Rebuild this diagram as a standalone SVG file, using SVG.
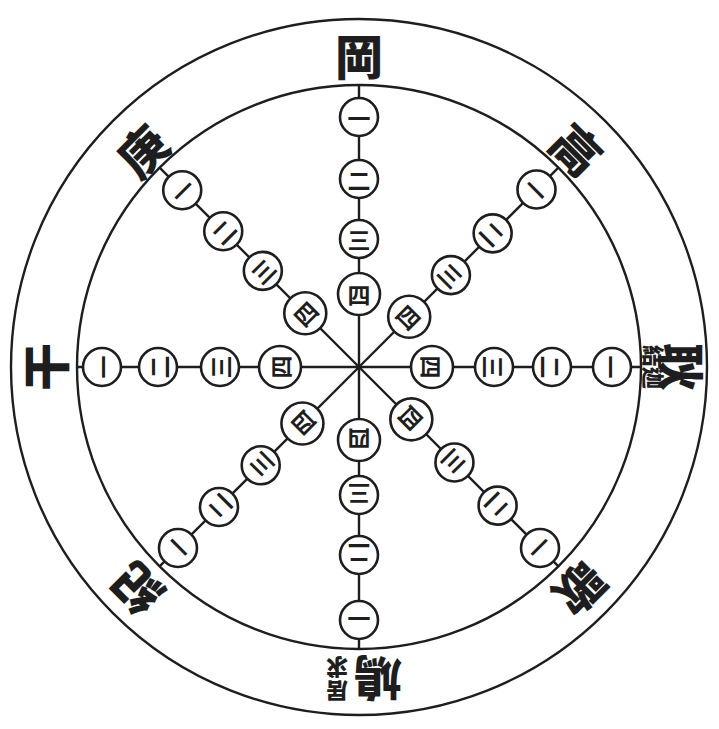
<svg xmlns="http://www.w3.org/2000/svg" width="719" height="729" viewBox="0 0 719 729">
<style>
.ln{stroke:#1e1e1e;stroke-width:2.4;fill:none}
.c{fill:#fff;stroke:#1e1e1e;stroke-width:2.6}
.n{font-family:"Noto Sans CJK SC","Noto Sans CJK TC",sans-serif;font-weight:700;font-size:23px;fill:#1e1e1e;text-anchor:middle;dominant-baseline:central}
.lb{font-family:"Noto Sans CJK TC","Noto Sans CJK SC",serif;font-weight:900;font-size:48px;fill:#1e1e1e;text-anchor:middle;dominant-baseline:central}
.sm{font-size:22px}
</style>
<rect width="719" height="729" fill="#fff"/>
<g id="rings">
<circle cx="359" cy="367" r="348" class="ln"/>
<circle cx="359" cy="367" r="282" class="ln"/>
</g>
<g id="connectors" class="ln" transform="translate(359 367)">
<line x1="0" y1="0" x2="0" y2="-282"/>
<line x1="0" y1="0" x2="0" y2="-282" transform="rotate(45)"/>
<line x1="0" y1="0" x2="0" y2="-282" transform="rotate(90)"/>
<line x1="0" y1="0" x2="0" y2="-282" transform="rotate(135)"/>
<line x1="0" y1="0" x2="0" y2="-282" transform="rotate(180)"/>
<line x1="0" y1="0" x2="0" y2="-282" transform="rotate(225)"/>
<line x1="0" y1="0" x2="0" y2="-282" transform="rotate(270)"/>
<line x1="0" y1="0" x2="0" y2="-282" transform="rotate(315)"/>
</g>
<g id="spoke-n" transform="translate(359 367)">
<circle cx="0" cy="-250" r="19" class="c"/><text x="0" y="-250" class="n">一</text>
<circle cx="0" cy="-188" r="19" class="c"/><text x="0" y="-188" class="n">二</text>
<circle cx="0" cy="-128" r="19" class="c"/><text x="0" y="-128" class="n">三</text>
<circle cx="0" cy="-73" r="21" class="c"/><text x="0" y="-73" class="n">四</text>
</g>
<g id="spoke-ne" transform="translate(359 367) rotate(45)">
<circle cx="0" cy="-251" r="19" class="c"/><text x="0" y="-251" class="n">一</text>
<circle cx="0" cy="-189" r="19" class="c"/><text x="0" y="-189" class="n">二</text>
<circle cx="0" cy="-130" r="19" class="c"/><text x="0" y="-130" class="n">三</text>
<circle cx="0" cy="-71" r="21" class="c"/><text x="0" y="-71" class="n">四</text>
</g>
<g id="spoke-e" transform="translate(359 367) rotate(90)">
<circle cx="0" cy="-253" r="19" class="c"/><text x="0" y="-253" class="n">一</text>
<circle cx="0" cy="-193" r="19" class="c"/><text x="0" y="-193" class="n">二</text>
<circle cx="0" cy="-135" r="19" class="c"/><text x="0" y="-135" class="n">三</text>
<circle cx="0" cy="-73" r="21" class="c"/><text x="0" y="-73" class="n">四</text>
</g>
<g id="spoke-se" transform="translate(359 367) rotate(135)">
<circle cx="0" cy="-256" r="19" class="c"/><text x="0" y="-256" class="n">一</text>
<circle cx="0" cy="-196" r="19" class="c"/><text x="0" y="-196" class="n">二</text>
<circle cx="0" cy="-135" r="19" class="c"/><text x="0" y="-135" class="n">三</text>
<circle cx="0" cy="-74" r="21" class="c"/><text x="0" y="-74" class="n">四</text>
</g>
<g id="spoke-s" transform="translate(359 367) rotate(180)">
<circle cx="0" cy="-253" r="19" class="c"/><text x="0" y="-253" class="n">一</text>
<circle cx="0" cy="-188" r="19" class="c"/><text x="0" y="-188" class="n">二</text>
<circle cx="0" cy="-128" r="19" class="c"/><text x="0" y="-128" class="n">三</text>
<circle cx="0" cy="-73" r="21" class="c"/><text x="0" y="-73" class="n">四</text>
</g>
<g id="spoke-sw" transform="translate(359 367) rotate(225)">
<circle cx="0" cy="-256" r="19" class="c"/><text x="0" y="-256" class="n">一</text>
<circle cx="0" cy="-198" r="19" class="c"/><text x="0" y="-198" class="n">二</text>
<circle cx="0" cy="-139" r="19" class="c"/><text x="0" y="-139" class="n">三</text>
<circle cx="0" cy="-80" r="21" class="c"/><text x="0" y="-80" class="n">四</text>
</g>
<g id="spoke-w" transform="translate(359 367) rotate(270)">
<circle cx="0" cy="-257" r="19" class="c"/><text x="0" y="-257" class="n">一</text>
<circle cx="0" cy="-201" r="19" class="c"/><text x="0" y="-201" class="n">二</text>
<circle cx="0" cy="-139" r="19" class="c"/><text x="0" y="-139" class="n">三</text>
<circle cx="0" cy="-79" r="21" class="c"/><text x="0" y="-79" class="n">四</text>
</g>
<g id="spoke-nw" transform="translate(359 367) rotate(315)">
<circle cx="0" cy="-250" r="19" class="c"/><text x="0" y="-250" class="n">一</text>
<circle cx="0" cy="-192" r="19" class="c"/><text x="0" y="-192" class="n">二</text>
<circle cx="0" cy="-136" r="19" class="c"/><text x="0" y="-136" class="n">三</text>
<circle cx="0" cy="-76" r="21" class="c"/><text x="0" y="-76" class="n">四</text>
</g>
<g id="label-n" transform="translate(359 367)"><text x="0" y="-313" class="lb">岡</text></g>
<g id="label-ne" transform="translate(359 367) rotate(45)"><text x="0" y="-310" class="lb">高</text></g>
<g id="label-e" transform="translate(359 367) rotate(90)"><text x="0" y="-325" class="lb" font-size="38">耿</text><text x="0" y="-296" class="lb sm">結迦</text></g>
<g id="label-se" transform="translate(359 367) rotate(135)"><text x="0" y="-315" class="lb">歌</text></g>
<g id="label-s" transform="translate(359 367) rotate(180)"><text x="-19" y="-314" class="lb" font-size="40">鳩</text><text x="22 22" y="-326 -302" class="lb sm">居求</text></g>
<g id="label-sw" transform="translate(359 367) rotate(225)"><text x="0" y="-316" class="lb">紀</text></g>
<g id="label-w" transform="translate(359 367) rotate(270)"><text x="0" y="-316" class="lb" font-size="44">干</text></g>
<g id="label-nw" transform="translate(359 367) rotate(315)"><text x="0" y="-308" class="lb">庚</text></g>
</svg>
